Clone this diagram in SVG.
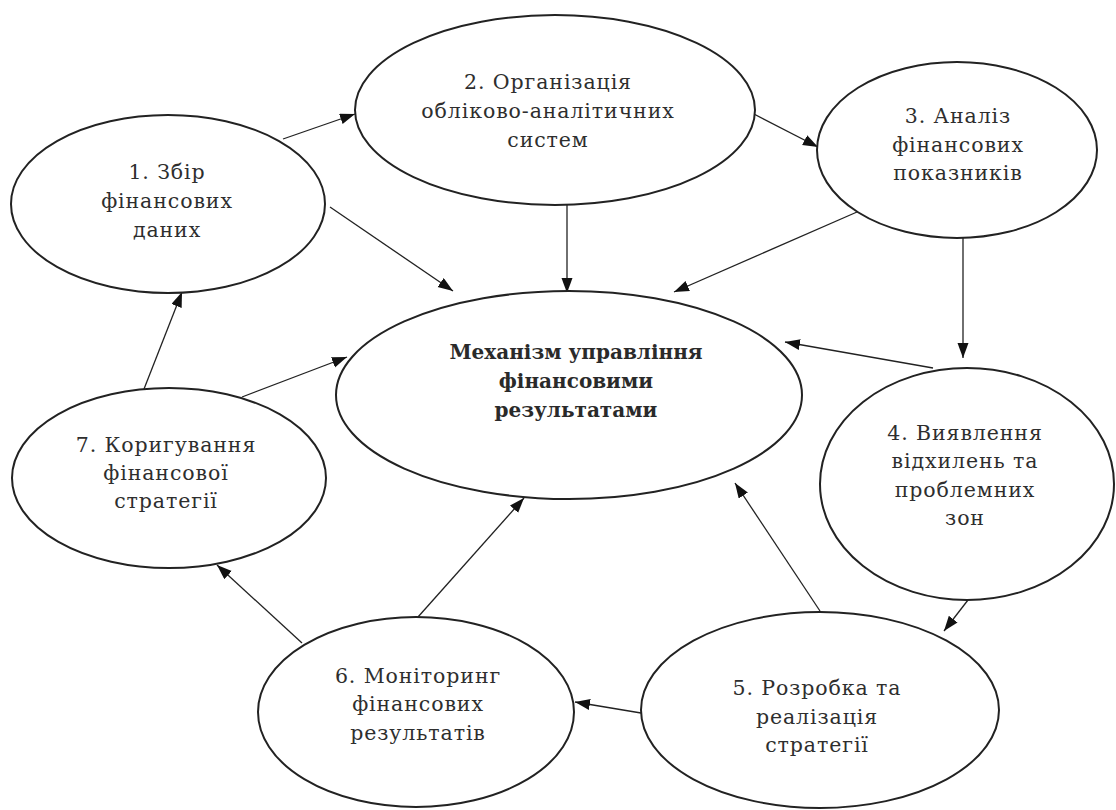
<svg xmlns="http://www.w3.org/2000/svg" width="1116" height="810" viewBox="0 0 1116 810">
<style>
.n{fill:#fff;stroke:#222;stroke-width:2}
.t{font-family:"DejaVu Serif","Liberation Serif",serif;font-size:20.5px;letter-spacing:0.9px;fill:#2e2e2e;text-anchor:middle}
.b{font-weight:bold;font-size:20px;letter-spacing:0;fill:#2a2a2a}
.c{stroke:#222;stroke-width:1.3;fill:none;marker-end:url(#a)}
</style>
<defs>
<marker id="a" markerUnits="userSpaceOnUse" markerWidth="16" markerHeight="12" refX="15" refY="5.5" orient="auto">
<path d="M0,0 L15,5.5 L0,11 z" fill="#111"/>
</marker>
</defs>
<rect width="1116" height="810" fill="#fff"/>
<g id="connectors">
<line class="c" x1="283" y1="139" x2="355" y2="114"/>
<line class="c" x1="752" y1="113" x2="818" y2="147"/>
<line class="c" x1="330" y1="207" x2="453" y2="291"/>
<line class="c" x1="567" y1="205" x2="567" y2="293"/>
<line class="c" x1="857" y1="212" x2="674" y2="292"/>
<line class="c" x1="963" y1="238" x2="963" y2="358"/>
<line class="c" x1="933" y1="368" x2="785" y2="342"/>
<line class="c" x1="968" y1="600" x2="944" y2="631"/>
<line class="c" x1="820" y1="611" x2="735" y2="483"/>
<line class="c" x1="641" y1="713" x2="575" y2="702"/>
<line class="c" x1="418" y1="617" x2="524" y2="498"/>
<line class="c" x1="302" y1="643" x2="217" y2="565"/>
<line class="c" x1="144" y1="389" x2="182" y2="292"/>
<line class="c" x1="242" y1="397" x2="347" y2="357"/>
</g>
<g id="node1">
<ellipse class="n" cx="168" cy="204" rx="157" ry="89"/>
<text class="t" x="167" y="179">1. Збір</text>
<text class="t" x="167" y="208">фінансових</text>
<text class="t" x="167" y="237">даних</text>
</g>
<g id="node2">
<ellipse class="n" cx="555" cy="110" rx="200" ry="95"/>
<text class="t" x="548" y="89">2. Організація</text>
<text class="t" x="548" y="118">обліково-аналітичних</text>
<text class="t" x="548" y="147">систем</text>
</g>
<g id="node3">
<ellipse class="n" cx="957" cy="150" rx="140" ry="88"/>
<text class="t" x="958" y="123">3. Аналіз</text>
<text class="t" x="958" y="152">фінансових</text>
<text class="t" x="958" y="180">показників</text>
</g>
<g id="center">
<ellipse class="n" cx="569" cy="395" rx="233" ry="104"/>
<text class="t b" x="576" y="359">Механізм управління</text>
<text class="t b" x="576" y="388">фінансовими</text>
<text class="t b" x="576" y="417">результатами</text>
</g>
<g id="node4">
<ellipse class="n" cx="967" cy="484" rx="147" ry="116"/>
<text class="t" x="965" y="440">4. Виявлення</text>
<text class="t" x="965" y="468">відхилень та</text>
<text class="t" x="965" y="497">проблемних</text>
<text class="t" x="965" y="525">зон</text>
</g>
<g id="node5">
<ellipse class="n" cx="820" cy="710" rx="179" ry="98"/>
<text class="t" x="817" y="695">5. Розробка та</text>
<text class="t" x="817" y="724">реалізація</text>
<text class="t" x="817" y="752">стратегії</text>
</g>
<g id="node6">
<ellipse class="n" cx="416" cy="712" rx="158" ry="95"/>
<text class="t" x="418" y="683">6. Моніторинг</text>
<text class="t" x="418" y="711">фінансових</text>
<text class="t" x="418" y="740">результатів</text>
</g>
<g id="node7">
<ellipse class="n" cx="169" cy="478" rx="157" ry="90"/>
<text class="t" x="166" y="452">7. Коригування</text>
<text class="t" x="166" y="480">фінансової</text>
<text class="t" x="166" y="508">стратегії</text>
</g>
</svg>
